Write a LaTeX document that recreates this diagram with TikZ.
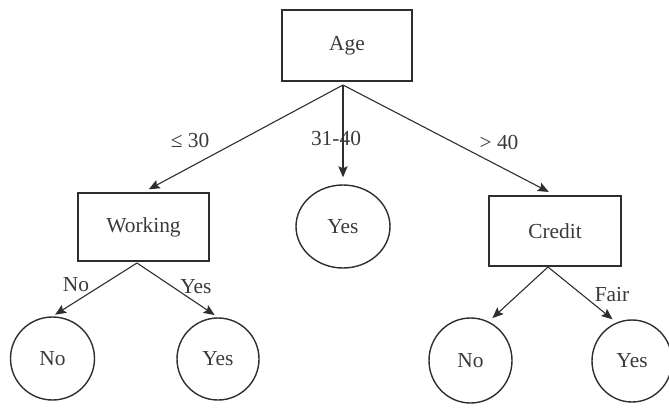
\documentclass[tikz,border=0pt]{standalone}
\usepackage{fontspec}
\setmainfont{Liberation Serif}
\usetikzlibrary{arrows.meta,shapes.geometric}
\definecolor{ink}{HTML}{2E2E2E}
\definecolor{txt}{HTML}{3A3A3A}
\begin{document}
\begin{tikzpicture}[x=0.5pt,y=-0.5pt,
  font=\fontsize{10.7}{13}\selectfont,
  every node/.style={text=txt},
  testbox/.style={draw=ink,line width=0.85pt,rectangle,inner sep=0pt},
  leaf/.style={draw=ink,line width=0.7pt,ellipse,inner sep=0pt},
  branch/.style={draw=ink,line width=0.55pt,-{Stealth[length=5.5pt,width=4.6pt,inset=1pt]}},
  lbl/.style={inner sep=0pt}]
\useasboundingbox (0,0) rectangle (669,407);

% decision nodes
\node[testbox,minimum width=65pt,minimum height=35.5pt] (age) at (347,45.5) {Age};
\node[testbox,minimum width=65.5pt,minimum height=34pt] (work) at (143.5,227) {Working};
\node[testbox,minimum width=66pt,minimum height=35pt] (credit) at (555,231) {Credit};

% outcome leaves
\node[leaf,minimum width=47pt,minimum height=41.5pt] (ymid) at (343,226.5) {Yes};
\node[leaf,minimum width=42pt,minimum height=41.5pt] (nleft) at (52.5,358.5) {No};
\node[leaf,minimum width=41pt,minimum height=41pt] (yleft) at (218,359) {Yes};
\node[leaf,minimum width=41.5pt,minimum height=42.5pt] (nright) at (470.5,360.5) {No};
\node[leaf,minimum width=40pt,minimum height=41pt] (yright) at (632,361) {Yes};

% points where the branches leave each box
\coordinate (ageout) at (343,85);
\coordinate (workout) at (137,263);
\coordinate (creditout) at (548,267);

% branch labels
\node[lbl] (l30) at (190,140) {≤ 30};
\node[lbl] (l3140) at (336,138) {31-40};
\node[lbl] (l40) at (499,142) {> 40};
\node[lbl] (lno) at (76,285) {No};
\node[lbl] (lyes) at (196,287) {Yes};
\node[lbl] (lfair) at (612,295) {Fair};

% branches
\draw[branch,shorten >=3pt] (ageout) -- (work.north);
\draw[branch,shorten >=3.5pt] (ageout) -- (ymid.north);
\draw[branch,shorten >=3.5pt] (ageout) -- (credit.north);
\draw[branch,shorten >=1.5pt] (workout) -- (nleft.north);
\draw[branch,shorten >=2pt] (workout) -- (yleft.north);
\draw[branch,shorten >=2.5pt] (creditout) -- (nright.65);
\draw[branch,shorten >=2.5pt] (creditout) -- (yright.112);
\end{tikzpicture}
\end{document}
